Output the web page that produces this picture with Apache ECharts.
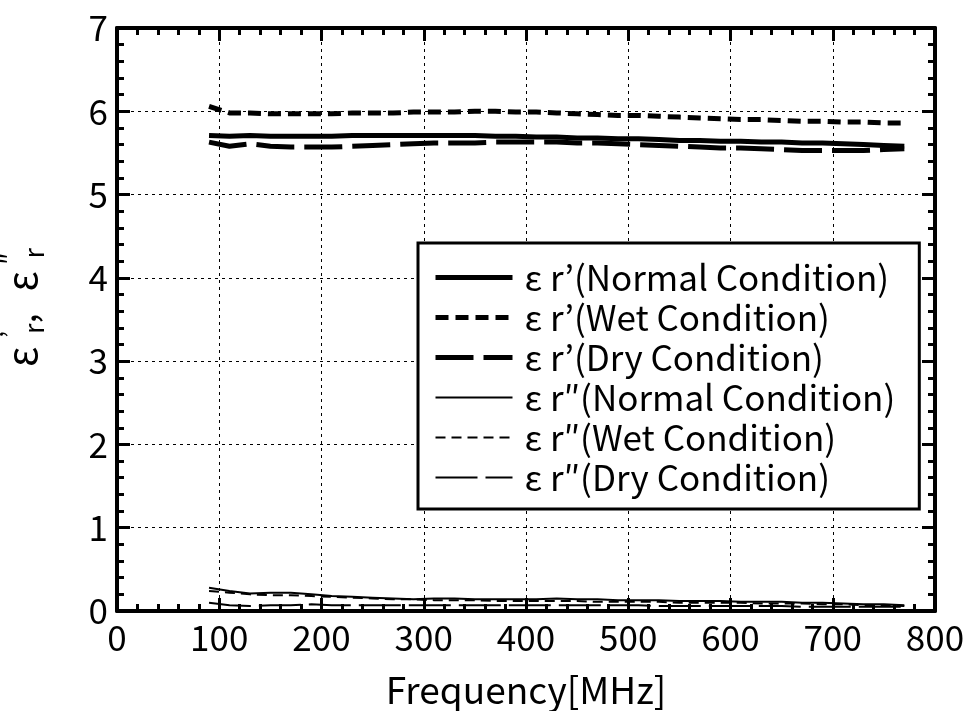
<!DOCTYPE html>
<html>
<head>
<meta charset="utf-8">
<script src="https://cdn.jsdelivr.net/npm/echarts@6/dist/echarts.min.js"></script>
<style>
  html, body { margin: 0; padding: 0; background: #fff; }
  #chart { width: 970px; height: 711px; }
</style>
</head>
<body>
<div id="chart"></div>
<script>
// 周波数 [MHz]
var freq = [90, 110, 130, 150, 170, 190, 210, 230, 250, 270, 290, 310, 330, 350, 370, 390, 410, 430,
  450, 470, 490, 510, 530, 550, 570, 590, 610, 630, 650, 670, 690, 710, 730, 750, 770]

// εr'
var normalReal = [5.71, 5.70, 5.71, 5.70, 5.70, 5.70, 5.70, 5.71, 5.71, 5.71, 5.71, 5.71, 5.71, 5.71, 5.70, 5.70, 5.69, 5.69,
  5.68, 5.68, 5.67, 5.67, 5.66, 5.65, 5.65, 5.64, 5.64, 5.63, 5.63, 5.62, 5.62, 5.61, 5.60, 5.59, 5.58]
var wetReal = [6.06, 5.98, 5.98, 5.97, 5.97, 5.97, 5.97, 5.98, 5.98, 5.98, 5.99, 5.99, 5.99, 6.00, 6.00, 5.99, 5.99, 5.98,
  5.97, 5.96, 5.95, 5.95, 5.94, 5.93, 5.92, 5.91, 5.90, 5.90, 5.89, 5.88, 5.88, 5.87, 5.87, 5.86, 5.86]
var dryReal = [5.63, 5.58, 5.61, 5.58, 5.57, 5.57, 5.57, 5.58, 5.59, 5.60, 5.61, 5.62, 5.62, 5.62, 5.63, 5.63, 5.63, 5.63,
  5.62, 5.62, 5.61, 5.60, 5.59, 5.58, 5.57, 5.56, 5.56, 5.55, 5.54, 5.53, 5.53, 5.53, 5.53, 5.54, 5.55]

// εr''
var normalImag = [0.28, 0.24, 0.21, 0.22, 0.22, 0.20, 0.18, 0.17, 0.16, 0.15, 0.14, 0.15, 0.15, 0.14, 0.14, 0.14, 0.14, 0.15,
  0.14, 0.14, 0.13, 0.13, 0.13, 0.12, 0.12, 0.12, 0.11, 0.11, 0.11, 0.10, 0.10, 0.09, 0.08, 0.08, 0.07]
var wetImag = [0.24, 0.22, 0.20, 0.19, 0.19, 0.18, 0.17, 0.16, 0.15, 0.14, 0.14, 0.13, 0.13, 0.13, 0.12, 0.12, 0.12, 0.12,
  0.12, 0.11, 0.11, 0.11, 0.11, 0.10, 0.10, 0.10, 0.10, 0.09, 0.09, 0.09, 0.08, 0.08, 0.07, 0.07, 0.06]
var dryImag = [0.10, 0.07, 0.06, 0.07, 0.07, 0.08, 0.07, 0.07, 0.07, 0.07, 0.07, 0.07, 0.07, 0.07, 0.07, 0.07, 0.07, 0.07,
  0.07, 0.07, 0.07, 0.07, 0.06, 0.06, 0.06, 0.06, 0.06, 0.06, 0.06, 0.05, 0.05, 0.05, 0.05, 0.05, 0.05]

var seriesNames = [
  'ε r’(Normal Condition)',
  'ε r’(Wet Condition)',
  'ε r’(Dry Condition)',
  'ε r″(Normal Condition)',
  'ε r″(Wet Condition)',
  'ε r″(Dry Condition)'
]

var FONT = '"Noto Sans CJK JP", "Noto Sans", sans-serif'

function pairs (ys) {
  return freq.map(function (f, i) { return [f, ys[i]] })
}

function lineSeries (name, ys, width, type) {
  return {
    name: name,
    type: 'line',
    data: pairs(ys),
    symbol: 'none',
    smooth: false,
    xAxisIndex: 0,
    yAxisIndex: 0,
    itemStyle: { color: '#000', opacity: 0 },
    lineStyle: { color: '#000', width: width, type: type, opacity: 1 }
  }
}

// 枠線・目盛り（内向き）
function axisBase (pos, showLabel) {
  return {
    type: 'value',
    position: pos,
    axisLine: { show: true, onZero: false, lineStyle: { color: '#000', width: 4 } },
    axisTick: { show: true, inside: true, length: 13, lineStyle: { color: '#000', width: 3 } },
    minorTick: { show: true, splitNumber: 5, length: 7, lineStyle: { color: '#000', width: 3 } },
    axisLabel: { show: showLabel, color: '#000', fontSize: 35, fontFamily: FONT, margin: 9 },
    splitLine: { show: showLabel, lineStyle: { color: '#000', width: 1, type: [3, 4] } }
  }
}

var chart = echarts.init(document.getElementById('chart'))

var xMain = axisBase('bottom', true)
xMain.min = 0; xMain.max = 800; xMain.interval = 100
xMain.name = 'Frequency[MHz]'
xMain.nameLocation = 'middle'
xMain.nameGap = 60
xMain.nameTextStyle = { color: '#000', fontSize: 37, fontFamily: FONT }

var xTop = axisBase('top', false)
xTop.min = 0; xTop.max = 800; xTop.interval = 100

var yMain = axisBase('left', true)
yMain.min = 0; yMain.max = 7; yMain.interval = 1
yMain.name = '{e|ε}{sp|’}{sb|r}{n|,}{e|ε}{sp|″}{sb|r}'
yMain.nameLocation = 'middle'
yMain.nameRotate = 90
yMain.nameGap = 70
yMain.nameTextStyle = {
  color: '#000', fontSize: 36, fontFamily: FONT, lineHeight: 50, padding: [0, 0, 0, 24],
  rich: {
    e: { fontSize: 40, fontFamily: FONT, lineHeight: 50, padding: [0, 12, 0, 0] },
    sp: { fontSize: 26, fontFamily: FONT, verticalAlign: 'top', lineHeight: 50, width: 1, align: 'left' },
    sb: { fontSize: 27, fontFamily: FONT, verticalAlign: 'bottom', lineHeight: 50 },
    n: { fontSize: 36, fontFamily: FONT, lineHeight: 50, padding: [0, 22, 0, 0] }
  }
}

var yRight = axisBase('right', false)
yRight.min = 0; yRight.max = 7; yRight.interval = 1

var option = {
  backgroundColor: '#fff',
  animation: false,
  grid: { left: 117, right: 35, top: 28, bottom: 100, containLabel: false, outerBoundsMode: 'none' },
  legend: {
    orient: 'vertical',
    left: 418,
    top: 243,
    padding: [17, 24, 14, 15],
    itemGap: 5,
    itemWidth: 77,
    itemHeight: 14,
    backgroundColor: '#fff',
    borderColor: '#000',
    borderWidth: 3,
    borderRadius: 0,
    itemStyle: { opacity: 0 },
    lineStyle: { width: 'inherit', type: 'inherit', color: '#000', opacity: 1 },
    textStyle: { color: '#000', fontSize: 35, fontFamily: FONT, lineHeight: 34, padding: [0, 0, 0, 7] },
    data: seriesNames
  },
  xAxis: [xMain, xTop],
  yAxis: [yMain, yRight],
  series: [
    lineSeries(seriesNames[0], normalReal, 5, 'solid'),
    lineSeries(seriesNames[1], wetReal, 5, [13, 7]),
    lineSeries(seriesNames[2], dryReal, 5, [38, 10]),
    lineSeries(seriesNames[3], normalImag, 2, 'solid'),
    lineSeries(seriesNames[4], wetImag, 2, [10, 6]),
    lineSeries(seriesNames[5], dryImag, 2, [42, 8])
  ]
}
chart.setOption(option)
</script>
</body>
</html>
